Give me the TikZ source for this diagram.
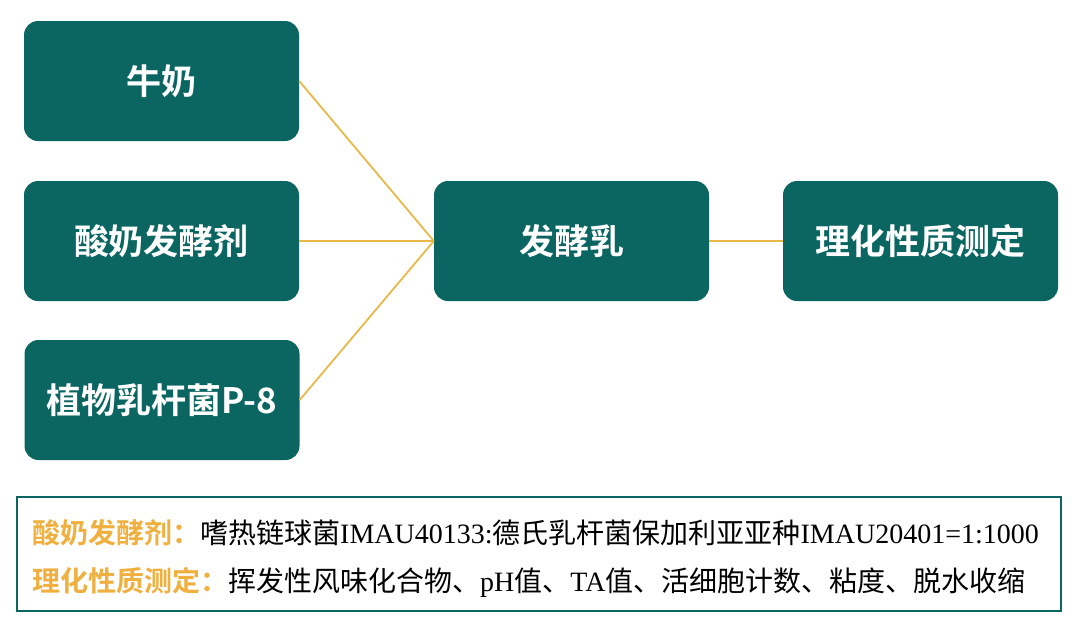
\documentclass[tikz,border=0pt]{standalone}
\usepackage{fontspec}
\newfontfamily\cjkb{Noto Sans CJK SC Bold}
\newfontfamily\cjk{Noto Sans CJK SC}
\newfontfamily\lat{Liberation Serif}
\definecolor{teal1}{HTML}{0B6662}
\definecolor{gold1}{HTML}{E9B848}
\definecolor{orange1}{HTML}{F0B040}
\begin{document}
\begin{tikzpicture}[x=1pt,y=-1pt,
  box/.style={fill=teal1,rounded corners=14pt,minimum width=275pt,minimum height=120pt,inner sep=0pt,text=white,font=\cjkb\fontsize{35}{38}\selectfont},
  link/.style={draw=gold1,line width=1.8pt}]
\useasboundingbox (0,0) rectangle (1080,633);
\node[box] (a) at (161.5,81) {牛奶};
\node[box] (b) at (161.5,241) {酸奶发酵剂};
\node[box] (c) at (162,400) {植物乳杆菌P-8};
\node[box] (d) at (571.5,241) {发酵乳};
\node[box] (e) at (920.5,241) {理化性质测定};
\coordinate (j) at (d.west);
\draw[link] (a.east) -- (j);
\draw[link] (b.east) -- (j);
\draw[link] (c.east) -- (j);
\draw[link] (d.east) -- (e.west);
\node[draw=teal1,line width=1.5pt,minimum width=1044pt,minimum height=114pt,inner sep=0pt] (f) at (539,554) {};
\node[anchor=west,inner sep=0pt,font=\fontsize{28}{32}\selectfont] (t1) at (32,533) {{\cjkb\color{orange1}酸奶发酵剂：}{\cjk 嗜热链球菌}{\lat IMAU40133:}{\cjk 德氏乳杆菌保加利亚亚种}{\lat IMAU20401=1:1000}};
\node[anchor=west,inner sep=0pt,font=\fontsize{28}{32}\selectfont] (t2) at (32,582) {{\cjkb\color{orange1}理化性质测定：}{\cjk 挥发性风味化合物、}{\lat pH}{\cjk 值、}{\lat TA}{\cjk 值、活细胞计数、粘度、脱水收缩}};
\end{tikzpicture}
\end{document}
